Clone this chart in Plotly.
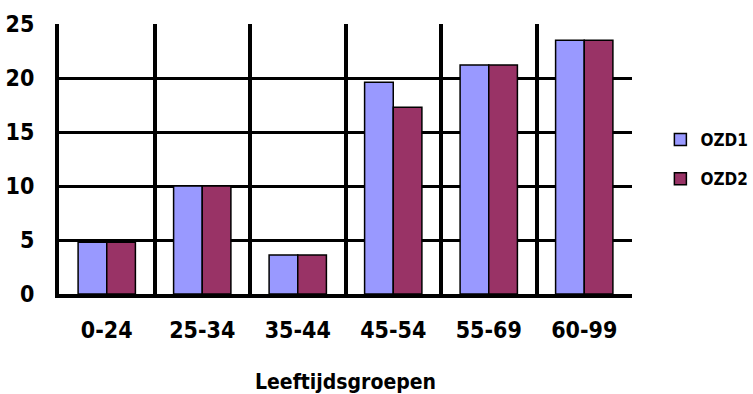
import plotly.graph_objects as go

# Age groups and the two measurement series
groups = ["0-24", "25-34", "35-44", "45-54", "55-69", "60-99"]
ozd1 = [4.8, 10.0, 3.6, 19.6, 21.2, 23.5]
ozd2 = [4.8, 10.0, 3.6, 17.3, 21.2, 23.5]
y_ticks = [0, 5, 10, 15, 20, 25]

font_family = "DejaVu Sans Condensed, Liberation Sans Narrow, Arial Narrow, sans-serif"

fig = go.Figure()
fig.add_trace(go.Bar(
    x=groups, y=ozd1, name="OZD1", legendgroup="g1",
    marker=dict(color="#9999ff", line=dict(color="black", width=1.5)),
))
fig.add_trace(go.Bar(
    x=groups, y=ozd2, name="OZD2", legendgroup="g2",
    marker=dict(color="#993366", line=dict(color="black", width=1.5)),
))

fig.update_layout(
    width=753, height=394,
    margin=dict(l=59, r=121, t=24, b=100),
    plot_bgcolor="white", paper_bgcolor="white",
    barmode="group", bargap=0.4, bargroupgap=0.0,
    font=dict(family=font_family, color="black"),
    showlegend=True,
    legend=dict(
        xref="container", yref="container",
        x=0.877, y=0.595, xanchor="left", yanchor="middle",
        font=dict(size=17, family=font_family, weight="bold"),
        itemwidth=30, tracegroupgap=14,
        bgcolor="rgba(0,0,0,0)",
    ),
    xaxis=dict(
        type="category",
        tickson="boundaries",
        showgrid=True, gridcolor="black", gridwidth=4,
        showline=True, linecolor="black", linewidth=4,
        ticks="", ticklen=0,
        tickfont=dict(size=23, family=font_family, weight="bold"),
        ticklabelstandoff=12,
        automargin=False,
        title=dict(text="Leeftijdsgroepen", standoff=38,
                   font=dict(size=21, family=font_family, weight="bold")),
    ),
    yaxis=dict(
        range=[0, 25],
        tickvals=y_ticks,
        showgrid=True, gridcolor="black", gridwidth=3,
        showline=True, linecolor="black", linewidth=4,
        zeroline=False,
        ticks="",
        tickfont=dict(size=23, family=font_family, weight="bold"),
        ticklabelstandoff=16,
        automargin=False,
    ),
)

fig.write_html("out.html")
